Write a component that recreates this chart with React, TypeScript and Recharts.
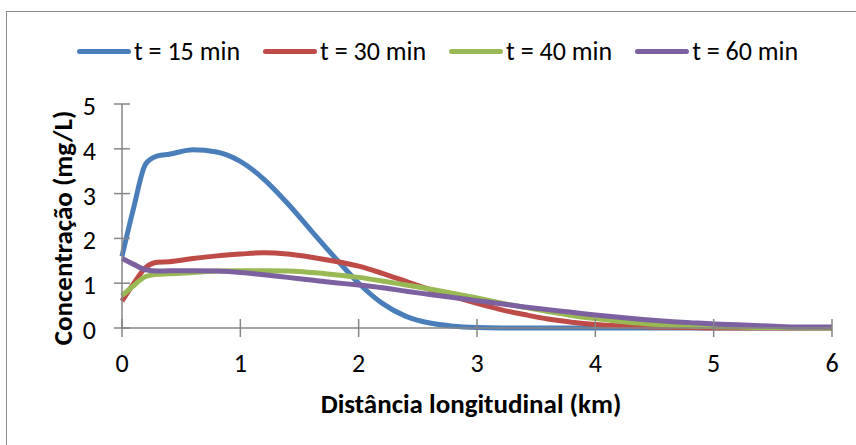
import { LineChart, Line, XAxis, YAxis, Label } from "recharts";

const distancia: number[] = [
  0, 0.1, 0.2, 0.3, 0.4, 0.6, 0.8, 1.0, 1.2, 1.4, 1.6, 1.8, 2.0, 2.2, 2.4, 2.6, 2.8,
  3.0, 3.2, 3.4, 3.6, 3.8, 4.0, 4.2, 4.4, 4.6, 4.8, 5.0, 5.2, 5.4, 5.6, 5.8, 6.0,
];

const t15: number[] = [
  1.6, 2.7, 3.66, 3.84, 3.88, 3.98, 3.93, 3.72, 3.32, 2.78, 2.17, 1.57, 1.0, 0.55, 0.26, 0.11, 0.04,
  0.01, 0, 0, 0, 0, 0, 0, 0, 0, 0, 0, 0, 0, 0, 0, 0,
];
const t30: number[] = [
  0.6, 1.0, 1.35, 1.47, 1.48, 1.55, 1.61, 1.65, 1.68, 1.65, 1.58, 1.49, 1.38, 1.22, 1.04, 0.86, 0.7,
  0.55, 0.41, 0.3, 0.2, 0.13, 0.08, 0.05, 0.03, 0.015, 0.01, 0, 0, 0, 0, 0, 0,
];
const t40: number[] = [
  0.72, 0.95, 1.15, 1.2, 1.21, 1.24, 1.27, 1.28, 1.28, 1.27, 1.24, 1.19, 1.13, 1.05, 0.96, 0.87, 0.77,
  0.67, 0.56, 0.46, 0.37, 0.28, 0.21, 0.15, 0.1, 0.07, 0.04, 0.03, 0.02, 0.01, 0.01, 0, 0,
];
const t60: number[] = [
  1.55, 1.42, 1.3, 1.27, 1.28, 1.28, 1.27, 1.24, 1.19, 1.13, 1.07, 1.01, 0.96, 0.9, 0.82, 0.75, 0.68,
  0.61, 0.54, 0.47, 0.41, 0.35, 0.29, 0.24, 0.19, 0.15, 0.12, 0.09, 0.07, 0.05, 0.03, 0.02, 0.02,
];

const xTicks = [0, 1, 2, 3, 4, 5, 6];
const yTicks = [0, 1, 2, 3, 4, 5];

const series = [
  { key: "t15", name: "t = 15 min", color: "#4A7EBB", values: t15 },
  { key: "t30", name: "t = 30 min", color: "#BE4B48", values: t30 },
  { key: "t40", name: "t = 40 min", color: "#98B954", values: t40 },
  { key: "t60", name: "t = 60 min", color: "#7D60A0", values: t60 },
];

const data = distancia.map((x, i) => {
  const row: Record<string, number> = { x };
  series.forEach((s) => (row[s.key] = s.values[i]));
  return row;
});

const FONT = "Carlito, 'Open Sans', sans-serif";
const AXIS = "#868686";

const XTick = (props: any) => {
  const { x, y, payload } = props;
  return (
    <g>
      <line x1={x} x2={x} y1={y - 9} y2={y + 9} stroke={AXIS} strokeWidth={1.5} />
      <text x={x} y={y + 44} textAnchor="middle" fontSize={26} fontFamily={FONT} fill="#000">
        {payload.value}
      </text>
    </g>
  );
};

const YTick = (props: any) => {
  const { x, y, payload } = props;
  return (
    <g>
      <line x1={x - 8} x2={x + 8} y1={y} y2={y} stroke={AXIS} strokeWidth={1.5} />
      <text x={x - 26} y={y + 11} textAnchor="end" fontSize={26} fontFamily={FONT} fill="#000">
        {payload.value}
      </text>
    </g>
  );
};

export default function App() {
  return (
    <div
      style={{
        position: "absolute",
        left: 0,
        top: 0,
        width: 856,
        height: 445,
        overflow: "hidden",
        background: "#fff",
      }}
    >
      <div
        style={{
          position: "absolute",
          left: 6,
          top: 11,
          width: 900,
          height: 500,
          border: "1px solid #8c8c8c",
        }}
      />
      {/* legenda */}
      <div
        style={{
          position: "absolute",
          left: 77,
          top: 36,
          height: 30,
          display: "flex",
          alignItems: "center",
          gap: 23,
          fontFamily: FONT,
          fontSize: 26,
          whiteSpace: "nowrap",
        }}
      >
        {series.map((s) => (
          <div key={s.key} style={{ display: "flex", alignItems: "center" }}>
            <div
              style={{ width: 54, height: 5, borderRadius: 3, background: s.color, marginRight: 3 }}
            />
            <span>{s.name}</span>
          </div>
        ))}
      </div>
      <LineChart
        width={856}
        height={445}
        data={data}
        margin={{ top: 104, right: 24, bottom: 0, left: 0 }}
        style={{ position: "absolute", left: 0, top: 0 }}
      >
        <XAxis
          dataKey="x"
          type="number"
          domain={[0, 6]}
          ticks={xTicks}
          height={117}
          tickSize={0}
          tickMargin={0}
          tick={<XTick />}
          axisLine={{ stroke: AXIS, strokeWidth: 1.5 }}
          interval={0}
        >
          <Label
            content={(p: any) => {
              const vb = p.viewBox;
              return (
                <text
                  x={vb.x + vb.width / 2 - 6}
                  y={vb.y + 85}
                  textAnchor="middle"
                  fontSize={27}
                  fontWeight="bold"
                  fontFamily={FONT}
                  fill="#000"
                >
                  Distância longitudinal (km)
                </text>
              );
            }}
          />
        </XAxis>
        <YAxis
          type="number"
          domain={[0, 5]}
          ticks={yTicks}
          width={122}
          tickSize={0}
          tickMargin={0}
          tick={<YTick />}
          axisLine={{ stroke: AXIS, strokeWidth: 1.5 }}
          interval={0}
        >
          <Label
            content={(p: any) => {
              const vb = p.viewBox;
              const cy = vb.y + vb.height / 2 + 12;
              return (
                <text
                  x={0}
                  y={0}
                  transform={`translate(62, ${cy}) rotate(-90)`}
                  textAnchor="middle"
                  dominantBaseline="central"
                  fontSize={27}
                  fontWeight="bold"
                  fontFamily={FONT}
                  fill="#000"
                >
                  Concentração (mg/L)
                </text>
              );
            }}
          />
        </YAxis>
        {series.map((s) => (
          <Line
            key={s.key}
            dataKey={s.key}
            name={s.name}
            type="monotone"
            stroke={s.color}
            strokeWidth={5}
            dot={false}
            activeDot={false}
            isAnimationActive={false}
          />
        ))}
      </LineChart>
    </div>
  );
}
